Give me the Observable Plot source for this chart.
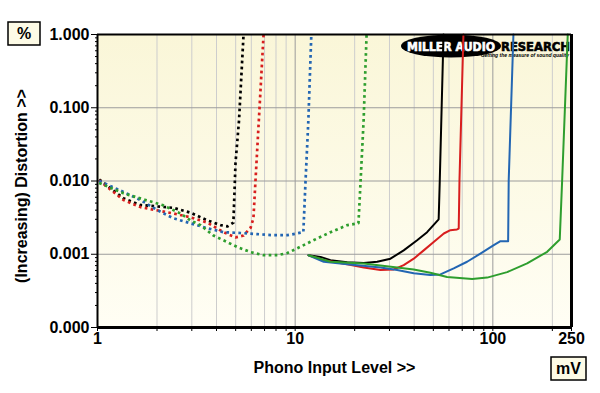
<!DOCTYPE html>
<html>
<head>
<meta charset="utf-8">
<script src="https://cdn.jsdelivr.net/npm/d3@7"></script>
<script src="https://cdn.jsdelivr.net/npm/@observablehq/plot@0.6"></script>
<style>
  html, body { margin: 0; padding: 0; background: #ffffff; }
  #chart svg { display: block; }
</style>
</head>
<body>
<div id="chart"></div>
<script>
// ---- tick values / labels ----
const xMajor = [1, 10, 100, 250];
const xMinor = [2, 3, 4, 5, 6, 7, 8, 9, 20, 30, 40, 50, 60, 70, 80, 90, 200];
const yMajor = [0.0001, 0.001, 0.01, 0.1, 1];
const yMinorFactors = [2, 3, 4, 5, 6, 7, 8, 9];
const xTitle = "Phono Input Level >>";
const yTitle = "(Increasing) Distortion >>";
const yUnit = "%";
const xUnit = "mV";

// ---- dotted series (mV, %) ----
const blackDotX = [1.02, 1.353, 1.65, 2.42, 2.95, 3.6, 4.19, 4.55, 4.87, 4.99, 5.2, 5.48];
const blackDotY = [0.0105, 0.0058, 0.0047, 0.0043, 0.0037, 0.0029, 0.0025, 0.0024, 0.0027, 0.0175, 0.0675, 1];
const redDotX = [1.02, 1.353, 1.65, 2.42, 2.95, 3.6, 4.34, 4.99, 5.48, 5.95, 6.15, 6.3, 6.55, 6.92];
const redDotY = [0.0102, 0.0055, 0.0044, 0.0036, 0.0032, 0.0027, 0.0020, 0.0017, 0.0018, 0.0023, 0.0031, 0.0102, 0.0675, 1];
const blueDotX = [1.02, 1.353, 1.65, 2.01, 2.42, 2.95, 3.6, 4.34, 5.29, 6.44, 7.77, 9.14, 11.0, 11.27, 11.66, 12.07];
const blueDotY = [0.0100, 0.0071, 0.0055, 0.0040, 0.0031, 0.00265, 0.00226, 0.0020, 0.00195, 0.00188, 0.00182, 0.00182, 0.0020, 0.0093, 0.0675, 1];
const greenDotX = [1.02, 1.353, 1.749, 2.132, 2.63, 2.95, 3.32, 3.86, 4.34, 5.11, 5.95, 6.91, 8.14, 9.14, 10.27, 12.36, 15.09, 18.4, 20.9, 21.4, 22.2, 22.98];
const greenDotY = [0.0094, 0.0068, 0.0055, 0.0047, 0.0036, 0.0029, 0.0025, 0.0018, 0.00155, 0.00125, 0.00107, 0.00097, 0.00097, 0.00104, 0.00121, 0.00155, 0.0020, 0.0025, 0.00265, 0.0093, 0.0675, 1];

// ---- solid series (mV, %) ----
const blackSolidX = [11.68, 13.43, 15.09, 18.33, 22.23, 26.0, 30.35, 35.4, 41.4, 46.5, 53.2, 53.9, 56.3];
const blackSolidY = [0.00097, 0.00092, 0.00083, 0.00078, 0.00076, 0.00079, 0.00087, 0.00113, 0.00155, 0.0020, 0.0030, 0.0102, 1];
const redSolidX = [11.68, 13.95, 18.33, 22.23, 27.02, 31.53, 35.4, 39.8, 44.7, 50.2, 56.5, 61.0, 65.9, 67.2, 67.8, 71.0];
const redSolidY = [0.00097, 0.00083, 0.00073, 0.00066, 0.00061, 0.00062, 0.00071, 0.00087, 0.00113, 0.00147, 0.00192, 0.00213, 0.00218, 0.00224, 0.0102, 1];
const blueSolidX = [11.68, 13.95, 18.33, 27.02, 32.8, 39.8, 48.3, 54.3, 63.4, 74.1, 86.5, 101.1, 109.3, 119.5, 120.3, 127.1];
const blueSolidY = [0.00097, 0.00079, 0.00073, 0.00066, 0.00061, 0.00055, 0.00052, 0.00053, 0.00064, 0.00079, 0.00102, 0.00133, 0.00151, 0.00151, 0.0102, 1];
const greenSolidX = [11.68, 15.09, 22.23, 32.8, 39.8, 48.3, 58.7, 78.6, 93.6, 118.1, 149.1, 188.3, 218.0, 224.2, 239.3];
const greenSolidY = [0.00097, 0.00079, 0.00075, 0.00066, 0.00062, 0.00056, 0.00049, 0.00046, 0.00048, 0.00057, 0.00075, 0.00108, 0.00159, 0.0102, 1];

const colors = { black: "#000000", red: "#d81e1e", blue: "#2366b3", green: "#2e9e2e" };

const toRows = (xs, ys) => xs.map((x, i) => ({ x, y: ys[i] }));
const dotted = [
  ["black", toRows(blackDotX, blackDotY)],
  ["red", toRows(redDotX, redDotY)],
  ["blue", toRows(blueDotX, blueDotY)],
  ["green", toRows(greenDotX, greenDotY)]
];
const solid = [
  ["black", toRows(blackSolidX, blackSolidY)],
  ["red", toRows(redSolidX, redSolidY)],
  ["blue", toRows(blueSolidX, blueSolidY)],
  ["green", toRows(greenSolidX, greenSolidY)]
];
const yMinor = yMajor.slice(0, -1).flatMap(d => yMinorFactors.map(k => d * k));

// defs (background gradient)
const defsMark = () => {
  const g = d3.create("svg:g");
  const lg = g.append("defs").append("linearGradient")
    .attr("id", "bggrad").attr("x1", 0).attr("y1", 0).attr("x2", 0).attr("y2", 1);
  lg.append("stop").attr("offset", "0%").attr("stop-color", "#faf6d8");
  lg.append("stop").attr("offset", "100%").attr("stop-color", "#fffef4");
  return g.node();
};

// logo
const logoMark = (index, scales, values, dims) => {
  const right = dims.width - dims.marginRight;
  const top = dims.marginTop;
  const g = d3.create("svg:g");
  g.append("ellipse").attr("cx", right - 120).attr("cy", top + 12).attr("rx", 50).attr("ry", 11.5).attr("fill", "#000");
  g.append("text").attr("x", right - 120).attr("y", top + 16.5)
    .attr("text-anchor", "middle").attr("fill", "#fff").attr("stroke", "#fff").attr("stroke-width", 0.6)
    .attr("font-family", "'DejaVu Sans', sans-serif").attr("font-weight", "bold").attr("font-size", 11.5)
    .attr("textLength", 88).attr("lengthAdjust", "spacingAndGlyphs")
    .text("MILLER AUDIO");
  g.append("text").attr("x", right - 70).attr("y", top + 16.5)
    .attr("text-anchor", "start").attr("fill", "#000").attr("stroke", "#000").attr("stroke-width", 0.6)
    .attr("font-family", "'DejaVu Sans', sans-serif").attr("font-weight", "bold").attr("font-size", 12)
    .attr("textLength", 69).attr("lengthAdjust", "spacingAndGlyphs")
    .text("RESEARCH");
  g.append("text").attr("x", right - 2).attr("y", top + 23)
    .attr("text-anchor", "end").attr("fill", "#000")
    .attr("font-family", "'Liberation Sans', sans-serif").attr("font-weight", "bold").attr("font-style", "italic").attr("font-size", 5)
    .text("Getting the measure of sound quality");
  return g.node();
};

// unit boxes
const boxesMark = (index, scales, values, dims) => {
  const g = d3.create("svg:g");
  const box = (x, y, w, h, label) => {
    g.append("rect").attr("x", x).attr("y", y).attr("width", w).attr("height", h)
      .attr("fill", "#fdfbe6").attr("stroke", "#000").attr("stroke-width", 1.5);
    g.append("text").attr("x", x + w / 2).attr("y", y + h / 2).attr("dy", "0.36em")
      .attr("text-anchor", "middle").attr("font-size", 16).attr("font-weight", "bold").text(label);
  };
  box(8, 22, 32, 23, yUnit);
  box(551, 357, 35, 23, xUnit);
  return g.node();
};

const lineMarks = [
  ...dotted.map(([c, rows]) => Plot.line(rows, {
    x: "x", y: "y", stroke: colors[c], strokeWidth: 2.7,
    strokeDasharray: "2.7 3.3", strokeLinecap: "butt", curve: "linear"
  })),
  ...solid.map(([c, rows]) => Plot.line(rows, {
    x: "x", y: "y", stroke: colors[c], strokeWidth: 2, curve: "linear"
  }))
];

const chart = Plot.plot({
  width: 600,
  height: 393,
  marginLeft: 97,
  marginRight: 29,
  marginTop: 34,
  marginBottom: 66,
  style: { background: "#ffffff", fontFamily: "'Liberation Sans', Arial, sans-serif", fontWeight: "bold", color: "#000" },
  x: { type: "log", domain: [1, 250] },
  y: { type: "log", domain: [0.0001, 1] },
  marks: [
    defsMark,
    Plot.frame({ fill: "url(#bggrad)", stroke: null }),
    Plot.ruleX(xMinor, { stroke: "#cdcdcd", strokeWidth: 1 }),
    Plot.ruleX([10, 100], { stroke: "#9c9c9c", strokeWidth: 1 }),
    Plot.ruleY([0.001, 0.01, 0.1], { stroke: "#9c9c9c", strokeWidth: 1 }),
    logoMark,
    ...lineMarks,
    Plot.ruleY([1], { stroke: "#000", strokeWidth: 2 }),
    Plot.ruleX([1], { stroke: "#000", strokeWidth: 2 }),
    Plot.ruleY([0.0001], { stroke: "#000", strokeWidth: 3 }),
    Plot.ruleX([250], { stroke: "#000", strokeWidth: 3 }),
    Plot.axisY(yMajor, { tickFormat: d3.format(".3f"), tickSize: 6, tickPadding: 2, fontSize: 16, fontWeight: "bold", label: null, stroke: "#000" }),
    Plot.axisY(yMinor, { tickSize: 2, tickFormat: () => "", label: null, stroke: "#000" }),
    Plot.axisX(xMajor, { tickFormat: d => String(d), tickSize: 4, tickPadding: 1, fontSize: 16, fontWeight: "bold", label: null, stroke: "#000" }),
    Plot.axisX(xMinor, { tickSize: 4, tickFormat: () => "", label: null, stroke: "#000" }),
    Plot.text([xTitle], { frameAnchor: "bottom", dy: 40, fontSize: 16, fontWeight: "bold", textAnchor: "middle", lineAnchor: "middle", fill: "#000" }),
    Plot.text([yTitle], { frameAnchor: "left", dx: -76, dy: 5, rotate: -90, fontSize: 16, fontWeight: "bold", textAnchor: "middle", lineAnchor: "middle", fill: "#000" }),
    boxesMark
  ]
});

document.getElementById("chart").appendChild(chart);
</script>
</body>
</html>
